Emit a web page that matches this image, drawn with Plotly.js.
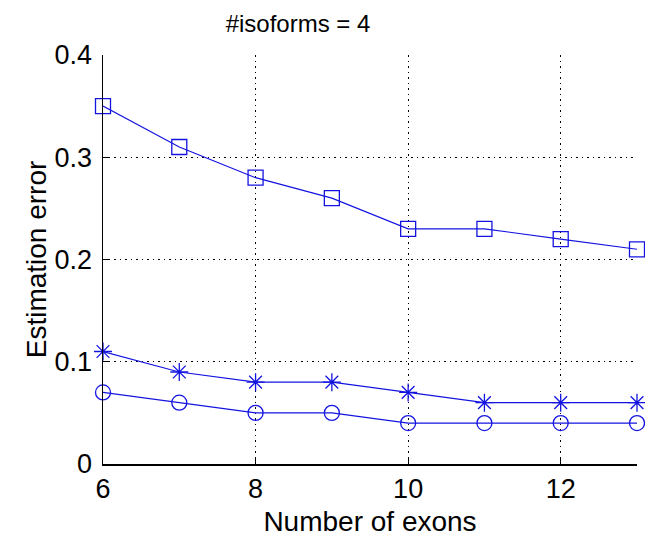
<!DOCTYPE html>
<html>
<head>
<meta charset="utf-8">
<script src="https://cdn.plot.ly/plotly-3.0.1.min.js"></script>
<style>html,body{margin:0;padding:0;background:#fff;}</style>
</head>
<body>
<div id="chart" style="width:645px;height:539px;"></div>
<script>
var exons = [6, 7, 8, 9, 10, 11, 12, 13];
var errSquare = [0.35, 0.31, 0.28, 0.26, 0.23, 0.23, 0.22, 0.21];
var errStar = [0.11, 0.09, 0.08, 0.08, 0.07, 0.06, 0.06, 0.06];
var errCircle = [0.07, 0.06, 0.05, 0.05, 0.04, 0.04, 0.04, 0.04];
var xTicks = [6, 8, 10, 12];
var xTickText = ['6', '8', '10', '12'];
var yTicks = [0, 0.1, 0.2, 0.3, 0.4];
var yTickText = ['0', '0.1', '0.2', '0.3', '0.4'];

var blue = 'rgb(20,20,225)';
function series(y, sym) {
  return {
    x: exons, y: y, type: 'scatter', mode: 'lines+markers',
    line: {color: blue, width: 1.2},
    marker: {symbol: sym, size: 15, color: blue, line: {color: blue, width: 1.3}},
    cliponaxis: false, hoverinfo: 'skip', showlegend: false
  };
}
var data = [
  series(errSquare, 'square-open'),
  series(errStar, 'asterisk-open'),
  series(errCircle, 'circle-open')
];
var font = 'Liberation Sans, Arial, sans-serif';
var layout = {
  width: 645, height: 539,
  margin: {l: 103, r: 8, t: 55, b: 75},
  paper_bgcolor: '#fff', plot_bgcolor: '#fff',
  font: {family: font, color: '#000'},
  title: {text: '#isoforms = 4', font: {family: font, size: 24, color: '#000'},
          x: 298/645, xanchor: 'center', xref: 'container', y: 1 - 24/539, yanchor: 'middle'},
  xaxis: {
    range: [6, 13], tickvals: xTicks, ticktext: xTickText,
    showgrid: true, gridcolor: '#000', griddash: '1.5px,4px', gridwidth: 1,
    showline: true, linecolor: '#000', linewidth: 1.5, mirror: false,
    ticks: 'inside', ticklen: 6, tickcolor: '#000', tickwidth: 1,
    zeroline: false, tickfont: {family: font, size: 27, color: '#000'},
    title: {text: 'Number of exons', font: {family: font, size: 28, color: '#000'}, standoff: 8}
  },
  yaxis: {
    range: [0, 0.4], tickvals: yTicks, ticktext: yTickText,
    showgrid: true, gridcolor: '#000', griddash: '1.5px,4px', gridwidth: 1,
    showline: true, linecolor: '#000', linewidth: 1.5, mirror: false,
    ticks: 'inside', ticklen: 6, tickcolor: '#000', tickwidth: 1,
    ticklabelstandoff: 4,
    zeroline: false, tickfont: {family: font, size: 27, color: '#000'},
    title: {text: 'Estimation error', font: {family: font, size: 28, color: '#000'}, standoff: 0}
  }
};
Plotly.newPlot('chart', data, layout, {displayModeBar: false, staticPlot: true});
</script>
</body>
</html>
